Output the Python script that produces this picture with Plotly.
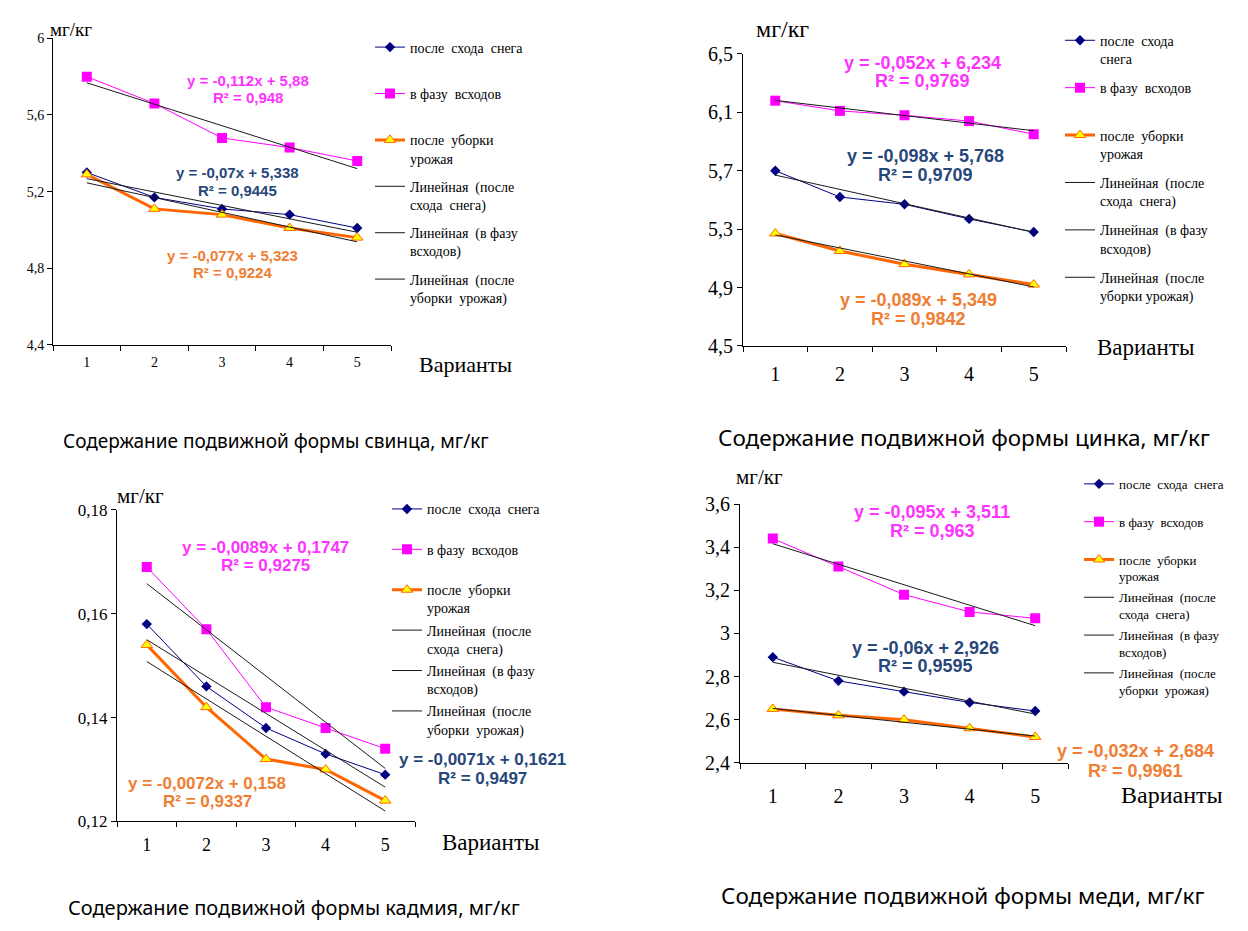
import plotly.graph_objects as go

W, H = 1248, 931

variants = ["1", "2", "3", "4", "5"]
x_num = [1, 2, 3, 4, 5]

# Lead (свинец)
lead_snow = [5.30, 5.17, 5.11, 5.08, 5.01]
lead_shoots = [5.80, 5.66, 5.48, 5.43, 5.36]
lead_harvest = [5.29, 5.11, 5.08, 5.01, 4.96]
lead_slopes = [-0.07, -0.112, -0.077]
lead_intercepts = [5.338, 5.88, 5.323]
lead_eq = ["y = -0,07x + 5,338", "y = -0,112x + 5,88", "y = -0,077x + 5,323"]
lead_r2 = ["R² = 0,9445", "R² = 0,948", "R² = 0,9224"]
lead_ticks = [4.4, 4.8, 5.2, 5.6, 6.0]
lead_ticktext = ["4,4", "4,8", "5,2", "5,6", "6"]

# Zinc (цинк)
zinc_snow = [5.70, 5.52, 5.47, 5.37, 5.28]
zinc_shoots = [6.18, 6.11, 6.08, 6.04, 5.95]
zinc_harvest = [5.27, 5.15, 5.06, 4.99, 4.92]
zinc_slopes = [-0.098, -0.052, -0.089]
zinc_intercepts = [5.768, 6.234, 5.349]
zinc_eq = ["y = -0,098x + 5,768", "y = -0,052x + 6,234", "y = -0,089x + 5,349"]
zinc_r2 = ["R² = 0,9709", "R² = 0,9769", "R² = 0,9842"]
zinc_ticks = [4.5, 4.9, 5.3, 5.7, 6.1, 6.5]
zinc_ticktext = ["4,5", "4,9", "5,3", "5,7", "6,1", "6,5"]

# Cadmium (кадмий)
cd_snow = [0.158, 0.146, 0.138, 0.133, 0.129]
cd_shoots = [0.169, 0.157, 0.142, 0.138, 0.134]
cd_harvest = [0.154, 0.142, 0.132, 0.130, 0.124]
cd_slopes = [-0.0071, -0.0089, -0.0072]
cd_intercepts = [0.1621, 0.1747, 0.158]
cd_eq = ["y = -0,0071x + 0,1621", "y = -0,0089x + 0,1747", "y = -0,0072x + 0,158"]
cd_r2 = ["R² = 0,9497", "R² = 0,9275", "R² = 0,9337"]
cd_ticks = [0.12, 0.14, 0.16, 0.18]
cd_ticktext = ["0,12", "0,14", "0,16", "0,18"]

# Copper (медь)
cu_snow = [2.89, 2.78, 2.73, 2.68, 2.64]
cu_shoots = [3.44, 3.31, 3.18, 3.10, 3.07]
cu_harvest = [2.65, 2.62, 2.60, 2.56, 2.52]
cu_slopes = [-0.06, -0.095, -0.032]
cu_intercepts = [2.926, 3.511, 2.684]
cu_eq = ["y = -0,06x + 2,926", "y = -0,095x + 3,511", "y = -0,032x + 2,684"]
cu_r2 = ["R² = 0,9595", "R² = 0,963", "R² = 0,9961"]
cu_ticks = [2.4, 2.6, 2.8, 3.0, 3.2, 3.4, 3.6]
cu_ticktext = ["2,4", "2,6", "2,8", "3", "3,2", "3,4", "3,6"]

captions = ["Содержание подвижной формы свинца, мг/кг",
            "Содержание подвижной формы цинка, мг/кг",
            "Содержание подвижной формы кадмия, мг/кг",
            "Содержание подвижной формы меди, мг/кг"]

names_a = ["после  схода  снега<br>&nbsp;", "в фазу  всходов<br>&nbsp;", "после  уборки<br>урожая",
           "Линейная  (после<br>схода  снега)", "Линейная  (в фазу<br>всходов)",
           "Линейная  (после<br>уборки  урожая)"]
names_b = ["после  схода<br>снега", "в фазу  всходов<br>&nbsp;", "после  уборки<br>урожая",
           "Линейная  (после<br>схода  снега)", "Линейная  (в фазу<br>всходов)",
           "Линейная  (после<br>уборки урожая)"]

LBL_COLORS = ["#27477a", "#ff33ff", "#ef7d32"]
SERIF = "Liberation Serif"
SANS = "Liberation Sans"


def px(x):
    return x / W


def py(y):
    return 1 - y / H


panels = [
    dict(series=[lead_snow, lead_shoots, lead_harvest], slopes=lead_slopes, ints=lead_intercepts,
         eq=lead_eq, r2=lead_r2, ticks=lead_ticks, ticktext=lead_ticktext, names=names_a,
         xdom=(53, 391), ydom=(28, 342), tickfont=14, xtickfont=14, standoff=4, lblfont=15,
         lblpos=[(237, 165, 184), (248, 71, 89), (232, 250, 268)], unit=(71, 19, 19),
         var=(465, 362, 22), cap=(276, 440, 19), leg=(370, 21), legfont=14, gap=7),
    dict(series=[zinc_snow, zinc_shoots, zinc_harvest], slopes=zinc_slopes, ints=zinc_intercepts,
         eq=zinc_eq, r2=zinc_r2, ticks=zinc_ticks, ticktext=zinc_ticktext, names=names_b,
         xdom=(743, 1066), ydom=(44, 343), tickfont=20, xtickfont=20, standoff=10, lblfont=18,
         lblpos=[(925, 148, 168), (922, 53, 72), (918, 296, 315)], unit=(782, 18, 24),
         var=(1145, 345, 23), cap=(964, 437, 22.5), leg=(1060, 14), legfont=14, gap=8),
    dict(series=[cd_snow, cd_shoots, cd_harvest], slopes=cd_slopes, ints=cd_intercepts,
         eq=cd_eq, r2=cd_r2, ticks=cd_ticks, ticktext=cd_ticktext, names=names_a,
         xdom=(117, 415), ydom=(511, 830), tickfont=17, xtickfont=18, standoff=7, lblfont=17,
         lblpos=[(482, 767, 786), (265, 549, 568), (207, 791, 810)], unit=(140, 497, 21),
         var=(490, 852, 23), cap=(294, 918, 20), leg=(387, 494), legfont=14, gap=1),
    dict(series=[cu_snow, cu_shoots, cu_harvest], slopes=cu_slopes, ints=cu_intercepts,
         eq=cu_eq, r2=cu_r2, ticks=cu_ticks, ticktext=cu_ticktext, names=names_a,
         xdom=(740, 1068), ydom=(505, 770), tickfont=20, xtickfont=20, standoff=15, lblfont=18,
         lblpos=[(925, 652, 671), (932, 513, 533), (1135, 758, 778)], unit=(760, 477, 21),
         var=(1172, 803, 24), cap=(962, 906, 22.5), leg=(1079, 469), legfont=13, gap=1),
]

series_styles = [
    dict(line=dict(color="#000080", width=1), marker=dict(symbol="diamond", size=8, color="#000080")),
    dict(line=dict(color="#ff00ff", width=1), marker=dict(symbol="square", size=10, color="#ff00ff")),
    dict(line=dict(color="#ff6600", width=3),
         marker=dict(symbol="triangle-up", size=10, color="#ffff00", line=dict(color="#ff6600", width=1))),
]

fig = go.Figure()
annotations = []

for i, p in enumerate(panels):
    k = "" if i == 0 else str(i + 1)
    xa, ya = "x" + k, "y" + k
    leg = "legend" + k
    for j, vals in enumerate(p["series"]):
        fig.add_trace(go.Scatter(x=x_num, y=vals, mode="lines+markers", name=p["names"][j],
                                 xaxis=xa, yaxis=ya, legend=leg, legendgroup=f"g{i}{j}",
                                 **series_styles[j]))
    for j in range(3):
        ty = [p["slopes"][j] * xv + p["ints"][j] for xv in x_num]
        fig.add_trace(go.Scatter(x=x_num, y=ty, mode="lines", name=p["names"][3 + j],
                                 xaxis=xa, yaxis=ya, legend=leg, legendgroup=f"t{i}{j}",
                                 line=dict(color="#1a1a1a", width=1)))

    x0, x1 = p["xdom"]
    y0, y1 = p["ydom"]
    fig.update_layout(**{
        "xaxis" + k: dict(domain=[px(x0), px(x1)], anchor=ya, range=[0.5, 5.5],
                          tickmode="array", tickvals=x_num, ticktext=variants, ticks="",
                          ticklabelstandoff=p["standoff"],
                          showline=True, linecolor="black", linewidth=1, showgrid=False,
                          zeroline=False, fixedrange=True,
                          tickfont=dict(family=SERIF, size=p["xtickfont"], color="black"),
                          minor=dict(tickmode="array", tickvals=[0.5, 1.5, 2.5, 3.5, 4.5, 5.5],
                                     ticks="outside", ticklen=5, tickcolor="black", showgrid=False)),
        "yaxis" + k: dict(domain=[py(y1), py(y0)], anchor=xa,
                          range=[p["ticks"][0], p["ticks"][-1]],
                          tickmode="array", tickvals=p["ticks"], ticktext=p["ticktext"],
                          ticks="outside", ticklen=5, tickcolor="black",
                          showline=True, linecolor="black", linewidth=1, showgrid=False,
                          zeroline=False,
                          tickfont=dict(family=SERIF, size=p["tickfont"], color="black")),
        leg: dict(x=px(p["leg"][0]), y=py(p["leg"][1]), xanchor="left", yanchor="top",
                  bgcolor="rgba(0,0,0,0)", valign="top", tracegroupgap=p["gap"],
                  font=dict(family=SERIF, size=p["legfont"], color="black")),
    })

    for j in range(3):
        lx, ly1, ly2 = p["lblpos"][j]
        for txt, ly in ((p["eq"][j], ly1), (p["r2"][j], ly2)):
            annotations.append(dict(x=px(lx), y=py(ly), xref="paper", yref="paper", showarrow=False,
                                    text="<b>" + txt + "</b>", xanchor="center", yanchor="middle",
                                    font=dict(family=SANS, size=p["lblfont"], color=LBL_COLORS[j])))
    ux, uy, us = p["unit"]
    annotations.append(dict(x=px(ux), y=py(uy), xref="paper", yref="paper", showarrow=False,
                            text="мг/кг", xanchor="center", yanchor="middle",
                            font=dict(family=SERIF, size=us, color="black")))
    vx, vy, vs = p["var"]
    annotations.append(dict(x=px(vx), y=py(vy), xref="paper", yref="paper", showarrow=False,
                            text="Варианты", xanchor="center", yanchor="middle",
                            font=dict(family=SERIF, size=vs, color="black")))
    cx, cy, cs = p["cap"]
    annotations.append(dict(x=px(cx), y=py(cy), xref="paper", yref="paper", showarrow=False,
                            text=captions[i], xanchor="center", yanchor="middle",
                            font=dict(family="Noto Sans", size=cs, color="black")))

fig.update_layout(width=W, height=H, autosize=False, margin=dict(l=0, r=0, t=0, b=0),
                  paper_bgcolor="white", plot_bgcolor="white", showlegend=True,
                  font=dict(family=SERIF, color="black"),
                  annotations=annotations)

fig.write_html("out.html")
